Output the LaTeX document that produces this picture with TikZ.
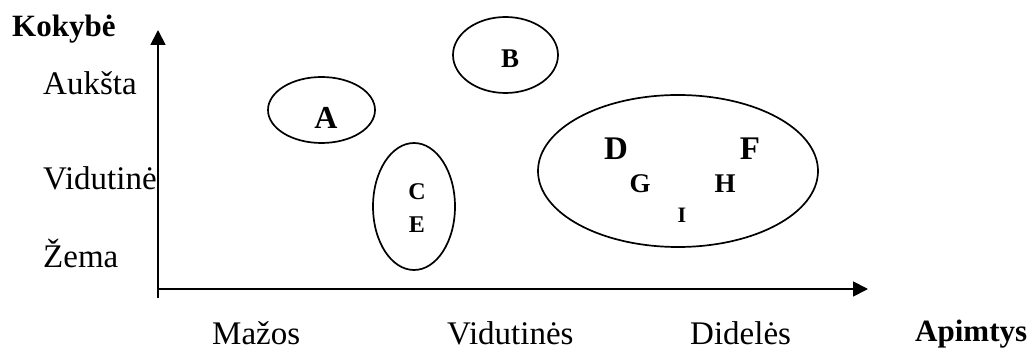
\documentclass[tikz,border=0pt]{standalone}
\usepackage{fontspec}
\setmainfont{Liberation Serif}
\usetikzlibrary{arrows.meta,shapes.geometric}

\begin{document}
\begin{tikzpicture}[x=1pt,y=-1pt,
  axis/.style={line width=1.8pt,-{Triangle[length=15pt,width=15pt]}},
  group/.style={draw,ellipse,line width=1.7pt,inner sep=0pt},
  scale label/.style={inner sep=0pt,anchor=base west,font=\fontsize{33}{33}\selectfont},
  axis title/.style={inner sep=0pt,anchor=base west,font=\fontsize{31}{31}\selectfont\bfseries},
  item/.style={inner sep=0pt,font=\fontsize{#1}{#1}\selectfont\bfseries}]
  \useasboundingbox (0,0) rectangle (1034,352);

  % axes
  \coordinate (ybot) at (158,298);
  \coordinate (ytop) at (158,30);
  \coordinate (xleft) at (158,289);
  \coordinate (xright) at (868,289);
  \draw[axis] (ybot) -- (ytop);
  \draw[axis] (xleft) -- (xright);

  % axis titles
  \node[axis title] (kokybe) at (12,37) {Kokybė};
  \node[axis title] (apimtys) at (915,342) {Apimtys};

  % quality levels
  \node[scale label] (auksta) at (43,95) {Aukšta};
  \node[scale label] (vidutine) at (43,190) {Vidutinė};
  \node[scale label] (zema) at (43,268) {Žema};

  % scope levels
  \node[scale label] (mazos) at (212,345) {Mažos};
  \node[scale label] (vidutines) at (447,345) {Vidutinės};
  \node[scale label] (dideles) at (690,345) {Didelės};

  % groups
  \node[group,minimum width=107pt,minimum height=66pt] (gA) at (321.5,110) {};
  \node[group,minimum width=105pt,minimum height=76pt] (gB) at (505.5,55) {};
  \node[group,minimum width=82pt,minimum height=127pt] (gCE) at (414,206.5) {};
  \node[group,minimum width=280pt,minimum height=152pt] (gD) at (678,171) {};

  % members
  \node[item=32] (A) at (326,118) {A};
  \node[item=27] (B) at (510,58.5) {B};
  \node[item=24] (C) at (417,192) {C};
  \node[item=24] (E) at (417,225) {E};
  \node[item=33] (D) at (616,149) {D};
  \node[item=33] (F) at (750,149) {F};
  \node[item=27] (G) at (640,184) {G};
  \node[item=27] (H) at (725,184) {H};
  \node[item=22] (I) at (682,215) {I};
\end{tikzpicture}
\end{document}
